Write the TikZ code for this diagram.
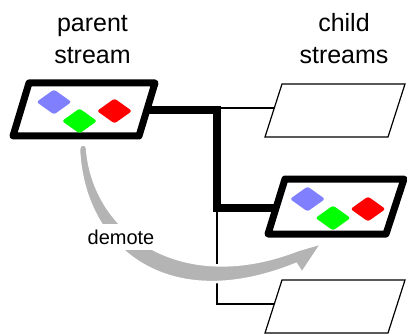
\documentclass[tikz,border=0pt]{standalone}
\usepackage{fontspec}
\setmainfont{Liberation Sans}
\definecolor{gemblue}{RGB}{128,128,255}
\definecolor{gemgreen}{RGB}{0,255,0}
\definecolor{gemred}{RGB}{255,0,0}
\definecolor{arrowgray}{RGB}{180,180,180}
\begin{document}
\begin{tikzpicture}[x=1pt,y=-1pt,
  boldbox/.style={line width=7pt, line join=round, fill=white},
  thinbox/.style={line width=1.2pt, fill=white},
  conbold/.style={line width=8.5pt, line join=miter},
  conthin/.style={line width=1.2pt},
  gem/.pic={\fill[rounded corners=2.5pt] (-17.5,0) -- (0,-12.5) -- (17.5,0) -- (0,12.5) -- cycle;},
  lbl/.style={font=\fontsize{25}{32}\selectfont, align=center, anchor=base, inner sep=0pt},
  arrowlbl/.style={font=\fontsize{20}{24}\selectfont, anchor=base, fill=white, inner sep=6pt}
]
\useasboundingbox (0,0) rectangle (407,334);
\clip (0,0) rectangle (407,334);

% labels
\node[lbl] (tparent) at (92.5,64) {parent\\stream};
\node[lbl] (tchild) at (344,64) {child\\streams};

% connector junctions
\coordinate (pout) at (147,110);
\coordinate (j1) at (217,110);
\coordinate (j1t) at (217,108);
\coordinate (j2) at (217,208);
\coordinate (j3) at (217,304);
\coordinate (c1in) at (273.7,108);
\coordinate (c2in) at (276,208);
\coordinate (c3in) at (274.3,304);

% thin connectors
\draw[conthin] (j1t) -- (c1in);
\draw[conthin] (j2) -- (j3) -- (c3in);

% bold connector
\draw[conbold] (pout) -- (j1) -- (j2) -- (c2in);

% parent stream
\draw[boldbox] (29,83) -- (155,83) -- (139,136) -- (13,136) -- cycle;
\pic[gemblue] (pb) at (54,102) {gem};
\pic[gemgreen] (pg) at (79.5,121) {gem};
\pic[gemred] (pr) at (114.5,111) {gem};

% child streams
\draw[thinbox] (282,84) -- (405,84) -- (388,137) -- (265,137) -- cycle;
\draw[boldbox] (285,179) -- (404,179) -- (386,234) -- (268,234) -- cycle;
\pic[gemblue] (cb) at (307.5,199) {gem};
\pic[gemgreen] (cg) at (333,218) {gem};
\pic[gemred] (cr) at (368,209) {gem};
\draw[thinbox] (282,280) -- (405,280) -- (388,333) -- (265,333) -- cycle;

% demote arrow
\fill[arrowgray, draw=white, line width=2.5pt]
  (87,148) .. controls (93,232) and (180,296) .. (298,250)
  -- (322,243) -- (302,273) -- (296,264)
  .. controls (165,317) and (83,246) .. (79,149)
  .. controls (79,143) and (87,143) .. cycle;
\node[arrowlbl] (demote) at (121,244) {demote};
\end{tikzpicture}
\end{document}
